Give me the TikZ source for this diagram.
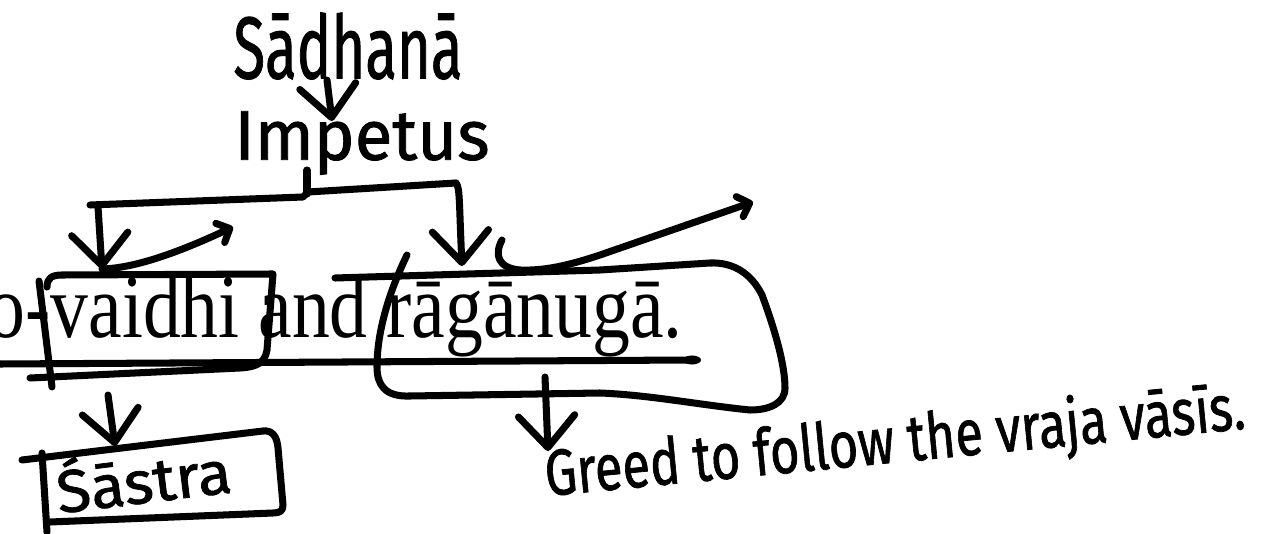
\documentclass[tikz,border=0pt]{standalone}
\usepackage{fontspec}
\setmainfont{Liberation Serif}
\newfontfamily\handfont{Fira Sans}[FakeBold=1.2]
\usetikzlibrary{arrows.meta}
\newcommand{\hf}[1]{\handfont\fontsize{#1}{#1}\selectfont}
\begin{document}
\begin{tikzpicture}[x=0.01cm,y=-0.01cm,
  ink/.style={line width=2pt, line cap=round, line join=round},
  bigtip/.style={-{Straight Barb[length=9pt,width=16pt,round]}},
  smalltip/.style={-{Straight Barb[length=3pt,width=6pt,round]}},
  hand/.style={inner sep=0pt},
  printed/.style={font=\fontsize{21.5}{24}\selectfont, inner sep=0pt}]
\fill[white] (0,0) rectangle (1261,534);
\useasboundingbox (0,0) rectangle (1261,534);

% printed text
\node[printed, anchor=base west] (txt) at (-13,338) {\scalebox{1}[1.2]{o-vaidhi and rāgānugā.}};

% handwritten labels
\node[hand, font=\hf{25}] (sad) at (348,46) {\scalebox{0.66}[1]{Sādhanā}};
\node[hand, font=\hf{20}] (imp) at (362,143) {\scalebox{0.98}[1]{Impetus}};
\node[hand, font=\hf{15.5}, rotate=7] (sas) at (143,476) {\scalebox{1.15}[1.1]{Śāstra}};
\node[hand, font=\hf{16}, rotate=5.5] (greed) at (895,444) {\scalebox{0.9}[1.15]{Greed to follow the vraja vāsīs.}};

% key points
\coordinate (sadB) at (327,80);
\coordinate (impT) at (332,121);
\coordinate (impB) at (307,170);
\coordinate (vTop) at (102,269);
\coordinate (rTop) at (462,266);
\coordinate (vBot) at (108,395);
\coordinate (sasT) at (115,446);
\coordinate (rBot) at (545,377);
\coordinate (greedT) at (548,451);

% Sadhana -> Impetus
\draw[ink,bigtip] (sadB) -- (impT);

% bracket
\draw[ink] (impB) -- (307,194);
\draw[ink] (90,205) -- (303,197) -- (308,192) -- (456,183);
\draw[ink,bigtip] (98,207) -- (vTop);
\draw[ink,bigtip] (456,183) .. controls (460,188) and (459,200) .. (rTop);

% curved arrows
\draw[ink,smalltip] (vTop) .. controls (140,268) and (190,247) .. (233,227);
\draw[ink,smalltip] (502,240) .. controls (494,255) and (498,268) .. (520,270)
   .. controls (545,271) and (570,265) .. (600,255) -- (753,202);

% underline
\draw[ink] (0,364) -- (690,360);
\fill (692,360) ellipse [x radius=0.9mm, y radius=0.45mm];

% vaidhi box
\draw[ink] (47,287) .. controls (47,278) and (52,275) .. (62,275) -- (273,274)
   -- (267,350) .. controls (265,362) and (258,367) .. (240,368) -- (30,378);
\draw[ink] (39,281) -- (52,387);

% raganuga box
\draw[ink] (335,278) -- (600,270) -- (710,263)
   .. controls (735,262) and (752,275) .. (762,295)
   .. controls (775,330) and (785,365) .. (785,388)
   .. controls (785,403) and (770,410) .. (750,410)
   .. controls (700,405) and (650,395) .. (600,393) -- (410,396)
   .. controls (385,397) and (377,385) .. (377,367)
   .. controls (377,330) and (390,290) .. (407,255);

% down arrows
\draw[ink,bigtip] (vBot) -- (sasT);
\draw[ink,bigtip] (rBot) -- (greedT);

% sastra box
\draw[ink] (22,460) -- (263,431) .. controls (272,430) and (277,436) .. (278,448)
   -- (283,505) .. controls (283,511) and (280,513) .. (273,513) -- (50,522);
\draw[ink] (42,453) -- (47,532);
\end{tikzpicture}
\end{document}
